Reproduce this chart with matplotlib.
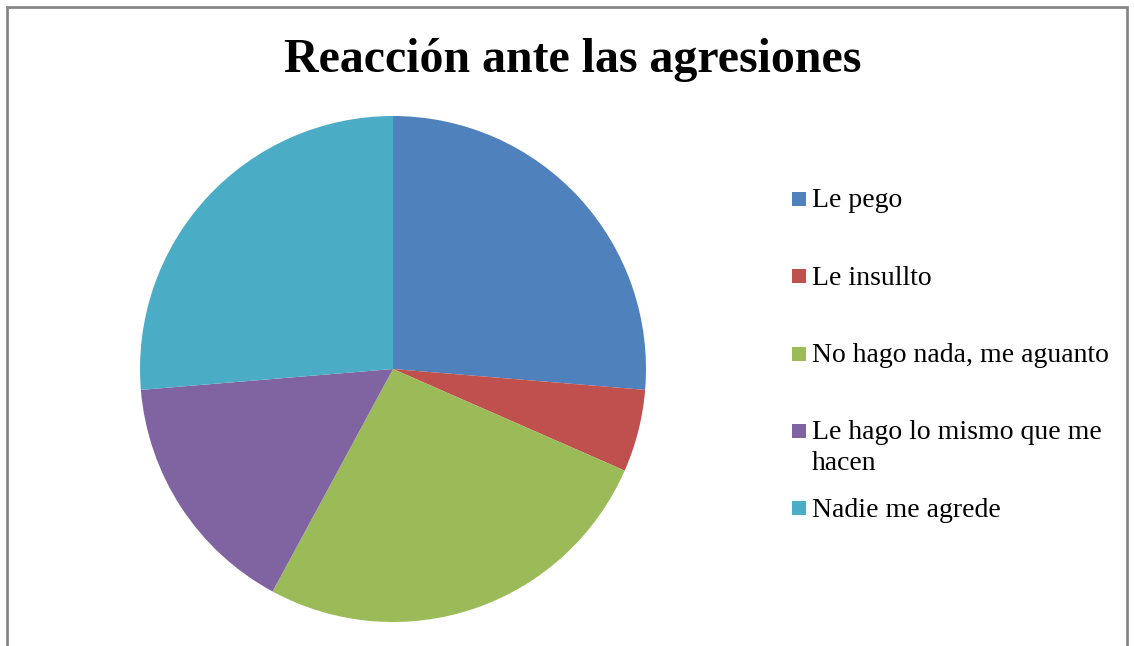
import matplotlib.pyplot as plt
from matplotlib.patches import Rectangle

labels = ['Le pego', 'Le insullto', 'No hago nada, me aguanto',
          'Le hago lo mismo que me\nhacen', 'Nadie me agrede']
counts = [5, 1, 5, 3, 5]
colors = ['#4F81BD', '#C0504D', '#9BBB59', '#8064A2', '#4BACC6']

W, H = 1134, 646
fig = plt.figure(figsize=(W / 100, H / 100), dpi=100)
plt.rcParams['font.family'] = ['Liberation Serif', 'DejaVu Serif']

# chart frame
fig.add_artist(Rectangle((7 / W, -0.05), (1127 - 7) / W, (H - 7) / H + 0.05,
                         transform=fig.transFigure, fill=False,
                         edgecolor='#868686', linewidth=2))

fig.text(573 / W, 1 - 72 / H, 'Reacción ante las agresiones',
         ha='center', va='baseline', fontsize=34.5, fontweight='bold')

# pie
ax = fig.add_axes([140 / W, (H - 622) / H, 506 / W, 506 / H])
ax.pie(counts, colors=colors, startangle=90, counterclock=False,
       radius=1.0, wedgeprops=dict(linewidth=0))
ax.set_xlim(-1.0, 1.0)
ax.set_ylim(-1.0, 1.0)
ax.set_aspect('equal')
ax.axis('off')

# legend drawn by hand to keep Excel-like spacing
y0, step, line_h = 199, 77.3, 31
for i, (lab, col) in enumerate(zip(labels, colors)):
    yc = y0 + i * step
    fig.add_artist(Rectangle((792 / W, 1 - (yc + 7) / H), 14 / W, 14 / H,
                             transform=fig.transFigure, facecolor=col,
                             edgecolor='none'))
    for k, line in enumerate(lab.split('\n')):
        fig.text(812 / W, 1 - (yc + 8.5 + k * line_h) / H, line,
                 ha='left', va='baseline', fontsize=20)

fig.savefig('out.png', dpi=100)
